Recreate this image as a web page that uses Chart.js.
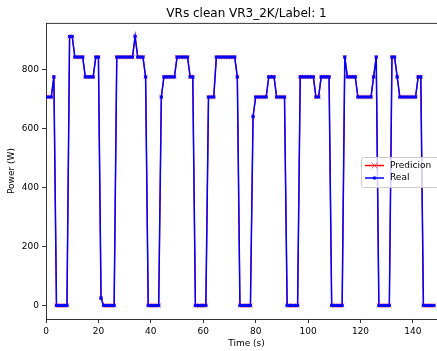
<!DOCTYPE html>
<html><head><meta charset="utf-8">
<script src="https://cdn.jsdelivr.net/npm/chart.js@4"></script>
<style>
html,body{margin:0;padding:0;background:#fff;overflow:hidden;width:437px;height:351px}
#wrap{position:absolute;left:0;top:0;width:452px;height:351px}
canvas{display:block}
</style></head><body>
<div id="wrap"><canvas id="c" width="452" height="351"></canvas></div>
<script>
const chartTitle = 'VRs clean VR3_2K/Label: 1';
const xTitle = 'Time (s)';
const yTitle = 'Power (W)';
const seriesNames = ['Predicion', 'Real'];
const times = [0,1,2,3,4,5,6,7,8,9,10,11,12,13,14,15,16,17,18,19,20,21,22,23,24,25,26,27,28,29,30,31,32,33,34,35,36,37,38,39,40,41,42,43,44,45,46,47,48,49,50,51,52,53,54,55,56,57,58,59,60,61,62,63,64,65,66,67,68,69,70,71,72,73,74,75,76,77,78,79,80,81,82,83,84,85,86,87,88,89,90,91,92,93,94,95,96,97,98,99,100,101,102,103,104,105,106,107,108,109,110,111,112,113,114,115,116,117,118,119,120,121,122,123,124,125,126,127,128,129,130,131,132,133,134,135,136,137,138,139,140,141,142,143,144,145,146,147,148];
const prediction = [706,706,706,774,0,0,0,0,0,911,911,841,841,841,841,774,774,774,774,841,841,25,0,0,0,0,0,841,841,841,841,841,841,841,911,841,841,841,774,0,0,0,0,0,706,774,774,774,774,774,841,841,841,841,841,774,774,0,0,0,0,0,706,706,706,841,841,841,841,841,841,841,841,774,0,0,0,0,0,640,706,706,706,706,706,774,774,774,706,706,706,706,0,0,0,0,0,774,774,774,774,774,774,706,706,774,774,774,774,0,0,0,0,0,841,774,774,774,774,706,706,706,706,706,706,774,841,0,0,0,0,0,841,841,774,706,706,706,706,706,706,706,774,774,0,0,0,0,0];
const real = [706,706,706,774,0,0,0,0,0,911,911,841,841,841,841,774,774,774,774,841,841,25,0,0,0,0,0,841,841,841,841,841,841,841,911,841,841,841,774,0,0,0,0,0,706,774,774,774,774,774,841,841,841,841,841,774,774,0,0,0,0,0,706,706,706,841,841,841,841,841,841,841,841,774,0,0,0,0,0,640,706,706,706,706,706,774,774,774,706,706,706,706,0,0,0,0,0,774,774,774,774,774,774,706,706,774,774,774,774,0,0,0,0,0,841,774,774,774,774,706,706,706,706,706,706,774,841,0,0,0,0,0,841,841,774,706,706,706,706,706,706,706,774,774,0,0,0,0,0];
const xTicks = [0,20,40,60,80,100,120,140];
const yTicks = [0,200,400,600,800];
const xLimits = [0, 153];
const yLimits = [-45.5, 956.5];

const FONT = 'DejaVu Sans';

const framePlugin = {
  id: 'frame',
  afterDatasetsDraw(chart) {
    const {ctx, chartArea: a} = chart;
    ctx.save();
    ctx.strokeStyle = '#000';
    ctx.lineWidth = 0.8;
    ctx.beginPath();
    ctx.moveTo(a.left, a.top + 0.4);
    ctx.lineTo(a.right, a.top + 0.4);
    ctx.lineTo(a.right, a.bottom);
    ctx.stroke();
    ctx.restore();
  }
};

const legendPlugin = {
  id: 'mplLegend',
  afterDraw(chart) {
    const {ctx, chartArea: a} = chart;
    const ds = chart.data.datasets;
    ctx.save();
    ctx.font = '9px "' + FONT + '"';
    let tw = 0;
    ds.forEach(d => { tw = Math.max(tw, ctx.measureText(d.label).width); });
    const w = 4 + 19 + 6 + tw + 9;
    const h = 30;
    const left = a.right - 86;
    const top = (a.top + a.bottom) / 2 - h / 2 + 1;
    ctx.fillStyle = 'rgba(255,255,255,0.8)';
    ctx.strokeStyle = '#cccccc';
    ctx.lineWidth = 1;
    ctx.beginPath();
    ctx.roundRect(left + 0.5, top + 0.5, w, h, 2);
    ctx.fill();
    ctx.stroke();
    ds.forEach((d, i) => {
      const cy = top + 8.5 + i * 12.5;
      const hx0 = left + 4, hx1 = left + 23;
      ctx.strokeStyle = d.borderColor;
      ctx.lineWidth = 1.5;
      ctx.beginPath();
      ctx.moveTo(hx0, cy); ctx.lineTo(hx1, cy);
      ctx.stroke();
      const mx = (hx0 + hx1) / 2;
      if (d.pointStyle === 'crossRot') {
        ctx.strokeStyle = d.pointBorderColor;
        ctx.lineWidth = 1;
        ctx.beginPath();
        ctx.moveTo(mx - 3, cy - 3); ctx.lineTo(mx + 3, cy + 3);
        ctx.moveTo(mx - 3, cy + 3); ctx.lineTo(mx + 3, cy - 3);
        ctx.stroke();
      } else {
        ctx.fillStyle = d.pointBackgroundColor;
        ctx.beginPath();
        ctx.arc(mx, cy, 1.8, 0, Math.PI * 2);
        ctx.fill();
      }
      ctx.fillStyle = '#000';
      ctx.textBaseline = 'middle';
      ctx.textAlign = 'left';
      ctx.fillText(d.label, left + 29, cy);
    });
    ctx.restore();
  }
};

const toPts = arr => times.map((t, i) => ({x: t, y: arr[i]}));

new Chart(document.getElementById('c'), {
  type: 'line',
  data: {
    datasets: [
      {
        label: seriesNames[0],
        data: toPts(prediction),
        borderColor: '#ff0000',
        borderWidth: 1.2,
        pointStyle: 'crossRot',
        pointRadius: 3,
        pointBorderColor: 'rgba(255,60,60,0.75)',
        pointBackgroundColor: 'rgba(0,0,0,0)',
        pointBorderWidth: 1,
        tension: 0,
        order: 1
      },
      {
        label: seriesNames[1],
        data: toPts(real),
        borderColor: '#0000ff',
        borderWidth: 1.5,
        pointStyle: 'circle',
        pointRadius: 1.8,
        pointBackgroundColor: '#0000ff',
        pointBorderColor: '#0000ff',
        pointBorderWidth: 0,
        tension: 0,
        order: 0
      }
    ]
  },
  options: {
    responsive: false,
    devicePixelRatio: 1,
    animation: false,
    layout: {padding: {left: 0, right: 2, top: 0, bottom: 0}},
    plugins: {
      legend: {display: false},
      tooltip: {enabled: false},
      title: {
        display: true,
        text: chartTitle,
        fullSize: false,
        color: '#000',
        font: {family: FONT, size: 12, weight: 'normal'},
        padding: {top: 7, bottom: 1.6}
      }
    },
    scales: {
      x: {
        type: 'linear',
        min: xLimits[0],
        max: xLimits[1],
        afterBuildTicks: s => { s.ticks = xTicks.map(v => ({value: v})); },
        afterFit: s => { s.height = 32; },
        ticks: {color: '#000', font: {family: FONT, size: 9}, padding: 3, maxRotation: 0, autoSkip: false},
        grid: {display: true, drawOnChartArea: false, drawTicks: true, tickLength: 4, color: '#000', lineWidth: 0.8},
        border: {display: true, color: '#000', width: 0.8},
        title: {display: true, text: xTitle, color: '#000', font: {family: FONT, size: 9}, padding: {top: 0, bottom: 2}}
      },
      y: {
        type: 'linear',
        min: yLimits[0],
        max: yLimits[1],
        afterBuildTicks: s => { s.ticks = yTicks.map(v => ({value: v})); },
        afterFit: s => { s.width = 46; },
        ticks: {color: '#000', font: {family: FONT, size: 9}, padding: 3, autoSkip: false},
        grid: {display: true, drawOnChartArea: false, drawTicks: true, tickLength: 4, color: '#000', lineWidth: 0.8},
        border: {display: true, color: '#000', width: 0.8},
        title: {display: true, text: yTitle, color: '#000', font: {family: FONT, size: 9}, padding: {top: 6, bottom: 0}}
      }
    }
  },
  plugins: [framePlugin, legendPlugin]
});
</script>
</body></html>
